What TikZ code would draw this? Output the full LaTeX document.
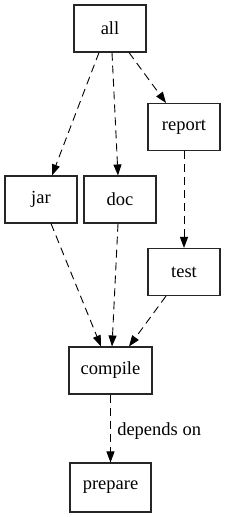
\documentclass[tikz,border=0pt]{standalone}
\usepackage{fontspec}
\setmainfont{Liberation Serif}
\usetikzlibrary{arrows.meta}
\begin{document}
\begin{tikzpicture}[x=1pt,y=-1pt,
  lbl/.style={font=\rmfamily\fontsize{18.5}{20}\selectfont},
  box/.style={draw=black!85,line width=1.1pt,fill=white,inner sep=0pt,lbl,minimum height=47pt},
  dep/.style={dashed,dash pattern=on 8pt off 5pt,line width=0.9pt,-{Triangle[length=11pt,width=8pt]}}]
\useasboundingbox (0,0) rectangle (225,517);
\node[box,minimum width=72pt] (all) at (110,28.5) {all};
\node[box,minimum width=72pt] (report) at (184,127) {report};
\node[box,minimum width=72pt] (jar) at (41,199.5) {jar};
\node[box,minimum width=72pt] (doc) at (120,199.5) {doc};
\node[box,minimum width=72pt] (test) at (184,272) {test};
\node[box,minimum width=83pt] (compile) at (110.5,370.5) {compile};
\node[box,minimum width=81pt,minimum height=49pt] (prepare) at (110.5,487.5) {prepare};
\draw[dep] (all.south -| 99,0) -- (jar.north -| 52,0);
\draw[dep] (all.south -| 112,0) -- (doc.north -| 118,0);
\draw[dep] (all.south -| 129,0) -- (report.north -| 166,0);
\draw[dep] (report) -- (test);
\draw[dep] (jar.south -| 51,0) -- (compile.north -| 101,0);
\draw[dep] (doc.south -| 118,0) -- (compile.north -| 112,0);
\draw[dep] (test.south -| 166,0) -- (compile.north -| 129,0);
\draw[dep] (compile) -- node[right=3pt,yshift=-3pt,lbl]{depends on} (prepare);
\end{tikzpicture}
\end{document}
